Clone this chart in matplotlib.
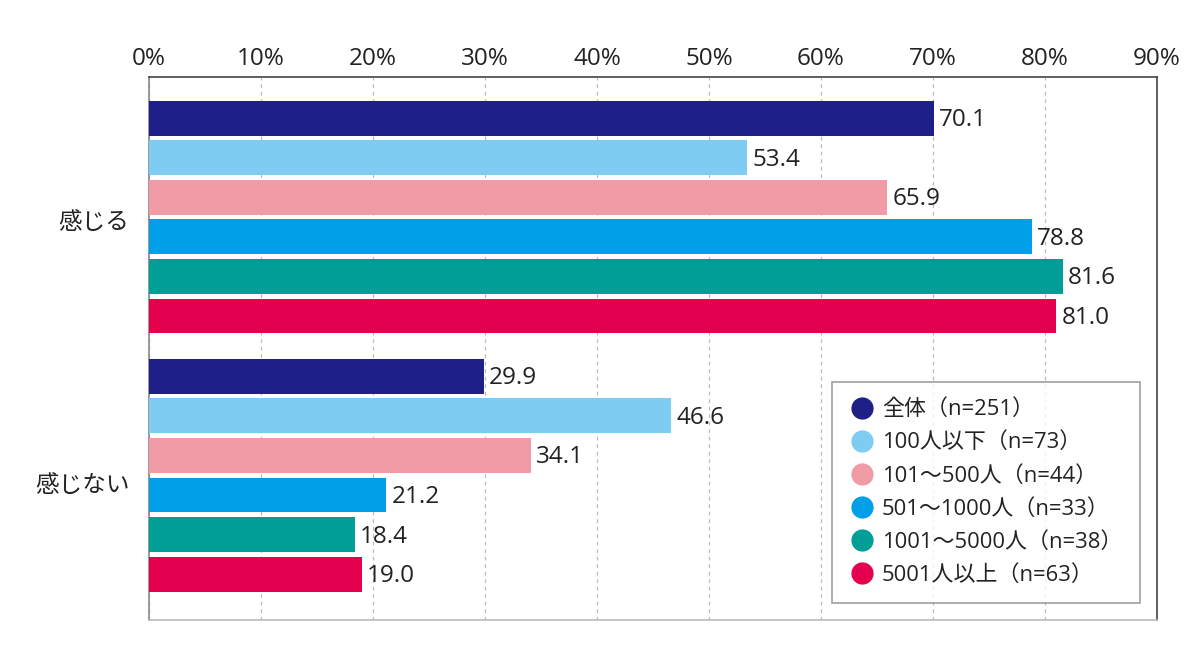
import numpy as np
import matplotlib
matplotlib.use("Agg")
import matplotlib.pyplot as plt
from matplotlib.lines import Line2D

plt.rcParams['font.family'] = ['Open Sans', 'Noto Sans CJK JP', 'DejaVu Sans']

# ----------------------------------------------------------------------
# --- Data ---
categories = ["感じる", "感じない"]
series_names = [
    "全体（n=251）",
    "100人以下（n=73）",
    "101～500人（n=44）",
    "501～1000人（n=33）",
    "1001～5000人（n=38）",
    "5001人以上（n=63）",
]
feel_values = [70.1, 53.4, 65.9, 78.8, 81.6, 81.0]
not_feel_values = [29.9, 46.6, 34.1, 21.2, 18.4, 19.0]
colors = ["#1E2087", "#7FCCF2", "#F09BA6", "#00A0E9", "#009E96", "#E4004F"]
x_ticks = [0, 10, 20, 30, 40, 50, 60, 70, 80, 90]

# ----------------------------------------------------------------------
# --- Layout ---
fig = plt.figure(figsize=(12, 6.61), dpi=100)
ax = fig.add_axes([0.1242, 0.062, 0.84, 0.8215])

group_gap = 1.52
bar_h = 0.88
n = len(series_names)
group_values = [feel_values, not_feel_values]
group_centers = []
for g, vals in enumerate(group_values):
    base = g * (n - 1 + group_gap)
    pos = base + np.arange(n)
    ax.barh(pos, vals, height=bar_h, color=colors, zorder=3)
    for p, v in zip(pos, vals):
        ax.text(v + 0.45, p + 0.05, f"{v:.1f}", va="center", ha="left",
                fontsize=17.5, color="#222222")
    group_centers.append(pos.mean())

ax.set_xlim(0, 90)
ax.set_ylim(2 * n - 2 + group_gap + 1.16, -1.04)

ax.xaxis.tick_top()
ax.set_xticks(x_ticks)
ax.set_xticklabels([f"{t}%" for t in x_ticks], fontsize=17.5, color="#222222")
ax.tick_params(axis="x", length=0, pad=4)

ax.set_yticks([group_centers[0] + 0.08, group_centers[1] + 0.2])
ax.set_yticklabels(categories, fontsize=17, color="#222222")
ax.tick_params(axis="y", length=0, pad=14)

ax.grid(axis="x", linestyle=(0, (3, 3)), color="#BBBBBB", linewidth=0.9, zorder=0)
ax.set_axisbelow(True)

ax.spines["top"].set_color("#444444")
ax.spines["right"].set_color("#444444")
ax.spines["left"].set_color("#888888")
ax.spines["bottom"].set_color("#BBBBBB")
for s in ax.spines.values():
    s.set_linewidth(1.2)

handles = [
    Line2D([], [], marker="o", linestyle="none", markersize=15,
           markerfacecolor=c, markeredgecolor=c)
    for c in colors
]
leg = ax.legend(handles, series_names, loc="lower right",
                bbox_to_anchor=(0.983, 0.031), borderaxespad=0, fontsize=15.8,
                frameon=True, fancybox=False, handletextpad=0.3,
                labelspacing=0.55, borderpad=0.8, handlelength=1.2)
leg.get_frame().set_edgecolor("#888888")
leg.get_frame().set_linewidth(1.2)
for t in leg.get_texts():
    t.set_color("#222222")

fig.savefig("out.png", dpi=100)
